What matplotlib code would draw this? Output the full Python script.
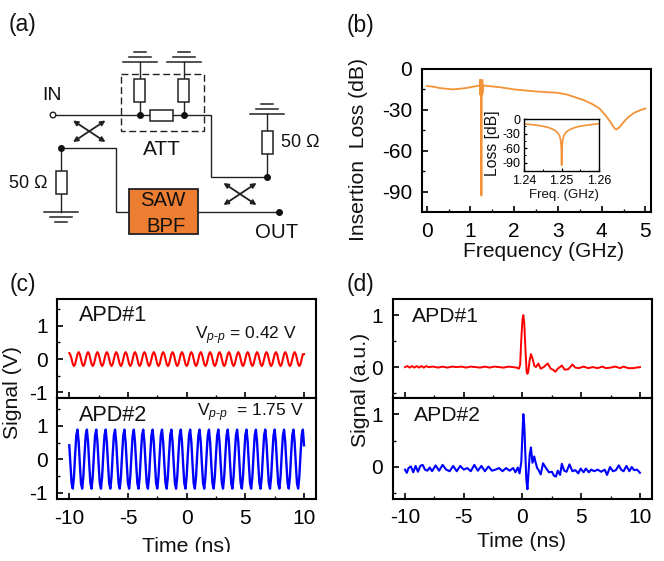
import numpy as np
import matplotlib
matplotlib.use("Agg")
import matplotlib.pyplot as plt
from matplotlib.patches import Rectangle, Circle

plt.rcParams.update({
    "font.family": ["Liberation Sans", "DejaVu Sans"],
    "mathtext.fontset": "custom",
    "mathtext.rm": "Liberation Sans",
    "mathtext.it": "Liberation Sans:italic",
    "axes.unicode_minus": False,
    "axes.linewidth": 1.5,
})

W, H = 664, 561
ORANGE = "#F39237"
TXT = 15.3

# ---------- (b) data ----------
freq = [0, .15, .3, .6, .9, 1.1, 1.18, 1.215, 1.22, 1.225, 1.23, 1.235, 1.24, 1.2495, 1.25, 1.2505,
        1.26, 1.265, 1.27, 1.275, 1.28, 1.4, 1.7, 2.0, 2.5, 3.0, 3.2, 3.4, 3.6, 3.8, 3.95, 4.1, 4.2,
        4.28, 4.33, 4.4, 4.5, 4.6, 4.75, 4.9, 5.0]
loss = [-12.5, -13, -14, -15, -14, -12.8, -12.3, -12, -8, -19, -8, -19, -9, -20, -93, -20,
        -9, -19, -8, -18, -12, -12.5, -13.5, -15, -16.5, -17.5, -18.7, -20.8, -23, -26, -29, -34.5, -39,
        -43, -44.5, -43, -39, -35.5, -32, -30, -29]
ins_freq = [1.24, 1.242, 1.244, 1.246, 1.247, 1.248, 1.2485, 1.249, 1.2494, 1.2497, 1.2499, 1.25,
            1.2501, 1.2503, 1.2506, 1.251, 1.2515, 1.252, 1.253, 1.254, 1.256, 1.258, 1.26]
ins_loss = [-10, -11.5, -13.5, -16.5, -19, -22.5, -25, -29, -34, -42, -58, -95,
            -58, -42, -34, -29, -25, -22.5, -19, -16.5, -13.5, -11.5, -9.5]
freq_ticks = [0, 1, 2, 3, 4, 5]
loss_ticks = [0, -30, -60, -90]
ins_freq_ticks = [1.24, 1.25, 1.26]
ins_loss_ticks = [0, -30, -60, -90]

# ---------- (c) data: sampled every 0.1 ns ----------
time_c = np.linspace(-10, 10, 201)
apd1_c = [
    .18, .12, 0, -.15, -.21, -.15, 0, .15, .21, .15, 0, -.15, -.21, -.15, 0, .15,
    .21, .15, 0, -.15, -.21, -.15, 0, .15, .21, .15, 0, -.15, -.21, -.15, 0, .15,
    .21, .15, 0, -.15, -.21, -.15, 0, .15, .21, .15, 0, -.15, -.21, -.15, 0, .15,
    .21, .15, 0, -.15, -.21, -.15, 0, .15, .21, .15, 0, -.15, -.21, -.15, 0, .15,
    .21, .15, 0, -.15, -.21, -.15, 0, .15, .21, .15, 0, -.15, -.21, -.15, 0, .15,
    .21, .15, 0, -.15, -.21, -.15, 0, .15, .21, .15, 0, -.15, -.21, -.15, 0, .15,
    .21, .15, 0, -.15, -.21, -.15, 0, .15, .21, .15, 0, -.15, -.21, -.15, 0, .15,
    .21, .15, 0, -.15, -.21, -.15, 0, .15, .21, .15, 0, -.15, -.21, -.15, 0, .15,
    .21, .15, 0, -.15, -.21, -.15, 0, .15, .21, .15, 0, -.15, -.21, -.15, 0, .15,
    .21, .15, 0, -.15, -.21, -.15, 0, .15, .21, .15, 0, -.15, -.21, -.15, 0, .15,
    .21, .15, 0, -.15, -.21, -.15, 0, .15, .21, .15, 0, -.15, -.21, -.15, 0, .15,
    .21, .15, 0, -.15, -.21, -.15, 0, .15, .21, .15, 0, -.15, -.21, -.15, 0, .15,
    .21, .15, 0, -.15, -.21, -.15, 0, .15, .15]
apd2_c = [
    .42, -.14, -.72, -.88, -.52, .14, .72, .89, .52, -.14, -.72, -.88, -.52, .14, .72, .89,
    .52, -.14, -.72, -.88, -.52, .14, .72, .89, .52, -.14, -.72, -.88, -.52, .14, .72, .89,
    .52, -.14, -.72, -.88, -.52, .14, .72, .89, .52, -.14, -.72, -.88, -.52, .14, .72, .89,
    .52, -.14, -.72, -.88, -.52, .14, .72, .89, .52, -.14, -.72, -.88, -.52, .14, .72, .89,
    .52, -.14, -.72, -.88, -.52, .14, .72, .89, .52, -.14, -.72, -.88, -.52, .14, .72, .89,
    .52, -.14, -.72, -.88, -.52, .14, .72, .89, .52, -.14, -.72, -.88, -.52, .14, .72, .89,
    .52, -.14, -.72, -.88, -.52, .14, .72, .89, .52, -.14, -.72, -.88, -.52, .14, .72, .89,
    .52, -.14, -.72, -.88, -.52, .14, .72, .89, .52, -.14, -.72, -.88, -.52, .14, .72, .89,
    .52, -.14, -.72, -.88, -.52, .14, .72, .89, .52, -.14, -.72, -.88, -.52, .14, .72, .89,
    .52, -.14, -.72, -.88, -.52, .14, .72, .89, .52, -.14, -.72, -.88, -.52, .14, .72, .89,
    .52, -.14, -.72, -.88, -.52, .14, .72, .89, .52, -.14, -.72, -.88, -.52, .14, .72, .89,
    .52, -.14, -.72, -.88, -.52, .14, .72, .89, .52, -.14, -.72, -.88, -.52, .14, .72, .89,
    .52, -.14, -.72, -.88, -.52, .14, .72, .89, .42]

# ---------- (d) data ----------
time_d1 = [-10, -9.8, -9.6, -9.4, -9.2, -9, -8.8, -8.6, -8.4, -8.2, -8, -7.6, -7.2, -6.8, -6.4, -6, -5.6,
           -5.2, -4.8, -4.4, -4, -3.6, -3.2, -2.8, -2.4, -2, -1.6, -1.2, -.8, -.5, -.3, -.2, -.1, 0, .07,
           .15, .25, .35, .42, .5, .6, .72, .85, 1, 1.15, 1.35, 1.55, 1.8, 2.15, 2.4, 2.6, 2.8, 3, 3.35,
           3.6, 3.9, 4.25, 4.5, 4.8, 5.2, 5.6, 6, 6.4, 6.8, 7.1, 7.5, 7.9, 8.3, 8.6, 9, 9.4, 9.7, 10]
sig_d1 = [0, .02, -.01, .02, -.01, .02, -.01, .02, -.01, .02, 0, .01, -.01, .01, -.01, .01, 0,
          .01, -.01, .01, 0, -.01, .01, -.01, .01, 0, -.01, .01, 0, -.01, -.03, .05, .55, .92, 1.0,
          .85, .35, -.08, -.13, -.08, .12, .25, .17, .03, 0, .07, -.03, 0, .07, -.03, -.05, -.09, -.03, .03,
          -.05, -.04, .05, -.01, -.02, .01, -.02, 0, -.02, .01, -.02, -.01, .01, -.02, .01, -.02, -.02, -.01, 0]
time_d2 = [-10, -9.85, -9.7, -9.5, -9.3, -9.1, -8.9, -8.7, -8.5, -8.3, -8.1, -7.9, -7.7, -7.4, -7.1, -6.8,
           -6.5, -6.2, -5.9, -5.6, -5.3, -5, -4.7, -4.4, -4.1, -3.8, -3.5, -3.2, -2.9, -2.6, -2.3, -2, -1.7,
           -1.4, -1.1, -.8, -.6, -.4, -.25, -.1, 0, .07, .15, .25, .33, .42, .5, .62, .72, .85, 1, 1.1, 1.25,
           1.4, 1.55, 1.75, 2, 2.25, 2.5, 2.7, 2.85, 3, 3.2, 3.35, 3.55, 3.75, 4, 4.25, 4.5, 4.75, 4.95,
           5.2, 5.4, 5.65, 5.85, 6.1, 6.4, 6.7, 7, 7.2, 7.45, 7.7, 7.95, 8.2, 8.4, 8.6, 8.85, 9.1, 9.3,
           9.5, 9.75, 10]
sig_d2 = [-.05, -.11, -.02, .01, -.1, .02, -.09, .02, .04, -.05, -.07, -.01, -.08, .03, -.07, .04,
          -.05, -.08, .02, -.08, .02, -.05, -.02, -.08, .04, -.07, .02, -.08, .01, -.07, -.05, -.02, -.08,
          -.02, -.07, -.02, -.1, -.01, -.12, .1, .65, 1.0, .8, .2, -.25, -.42, -.15, .25, .37, .08, .2, .1, -.02,
          -.07, -.14, .07, -.02, -.1, -.09, -.17, -.18, -.07, -.15, .06, -.07, -.09, .05, -.08, -.06, -.12, -.03,
          -.1, -.03, -.1, -.05, -.08, -.05, -.09, -.05, -.15, .0, -.08, -.06, .03, -.05, -.08, .02, -.08, .0,
          -.06, -.05, -.11]
time_ticks = [-10, -5, 0, 5, 10]

# ---------- (a) schematic geometry, in figure pixels ----------
wires = [
    [(56, 115), (211, 115), (211, 177), (267, 177), (267, 114)],
    [(61, 148), (116, 148), (116, 212), (129, 212)],
    [(61, 148), (61, 212)],
    [(198, 212), (279, 212)],
    [(139.5, 62), (139.5, 115)],
    [(183.5, 62), (183.5, 115)],
]
v_res = [(139.5, 90.5), (183.5, 90.5), (267, 142.5), (61, 182.5)]
ground_up = [(139.5, 61.5), (183.5, 61.5), (267, 113.5)]
ground_down = [(61, 212)]
dots = [(139.5, 115), (183.5, 115), (267, 177), (61, 148), (279, 212)]
crosses = [((73, 120.5), (105.5, 142)), ((223.5, 183), (256.5, 205))]


def px_axes(l, t, r, b, **kw):
    return fig.add_axes([l / W, 1 - b / H, (r - l) / W, (b - t) / H], **kw)


def style(ax, size=15, maj=4.0, mnr=2.4, lw=1.2, pad=4):
    ax.tick_params(which="major", direction="in", length=maj, width=lw, labelsize=size, pad=pad)
    ax.tick_params(which="minor", direction="in", length=mnr, width=lw * .8)


fig = plt.figure(figsize=(W / 100, H / 100), dpi=100)

# (b)
ax = px_axes(421.7, 69, 650.7, 212)
ax.plot(freq, loss, color=ORANGE, lw=1.3, solid_joinstyle="round")
ax.set_xlim(-.115, 5.12)
ax.set_ylim(-105, 0)
ax.set_xticks(freq_ticks)
ax.set_yticks(loss_ticks)
ax.set_xticks([.5, 1.5, 2.5, 3.5, 4.5], minor=True)
ax.set_yticks([-15, -45, -75], minor=True)
style(ax, pad=7)

ins = px_axes(524.3, 119, 599, 171)
ins.plot(ins_freq, ins_loss, color=ORANGE, lw=1.2, solid_joinstyle="round")
ins.set_xlim(1.24, 1.26)
ins.set_ylim(-107, 0)
ins.set_xticks(ins_freq_ticks)
ins.set_xticklabels(["1.24", "1.25", "1.26"])
ins.set_yticks(ins_loss_ticks)
ins.set_xticks([1.245, 1.255], minor=True)
ins.set_yticks([-15, -45, -75], minor=True)
style(ins, size=9.0, maj=2.5, mnr=1.5, lw=.9, pad=3)
for s in ins.spines.values():
    s.set_linewidth(1.0)

# (c)
c1 = px_axes(57.3, 299.3, 316, 398.3)
c1.plot(time_c, apd1_c, color="#FF0000", lw=1.5)
c1.set_ylim(-1.18, 1.8)
c2 = px_axes(57.3, 398.3, 316, 499.3)
c2.plot(time_c, apd2_c, color="#0000FF", lw=1.7)
c2.set_ylim(-1.2, 1.83)
for a in (c1, c2):
    a.set_xlim(-11.02, 11.02)
    a.set_xticks(time_ticks)
    a.set_xticks([-7.5, -2.5, 2.5, 7.5], minor=True)
    a.set_yticks([-1, 0, 1])
    a.set_yticks([-.5, .5, 1.5], minor=True)
    style(a, pad=7)
c1.tick_params(labelbottom=False)

# (d)
d1 = px_axes(392.7, 299, 651.7, 398.3)
d1.plot(time_d1, sig_d1, color="#FF0000", lw=1.4)
d1.set_ylim(-.6, 1.31)
d2 = px_axes(392.7, 398.3, 651.7, 498.7)
d2.plot(time_d2, sig_d2, color="#0000FF", lw=1.5)
d2.set_ylim(-.6, 1.3)
for a in (d1, d2):
    a.set_xlim(-11.05, 11.0)
    a.set_xticks(time_ticks)
    a.set_xticks([-7.5, -2.5, 2.5, 7.5], minor=True)
    a.set_yticks([0, 1])
    a.set_yticks([-.5, .5], minor=True)
    style(a, pad=7)
d1.tick_params(labelbottom=False)

# overlay: schematic and labels in pixel coordinates
ov = fig.add_axes([0, 0, 1, 1], zorder=10)
ov.set_xlim(0, W)
ov.set_ylim(H, 0)
ov.axis("off")
ov.patch.set_alpha(0)


def t(x, y, s, size=TXT, ha="center", rot=0, **kw):
    ov.text(x, y, s, fontsize=size, ha=ha, va="center", rotation=rot, color="#111111", **kw)


for pts in wires:
    xs, ys = zip(*pts)
    ov.plot(xs, ys, color="#222222", lw=1.0, solid_joinstyle="miter")
for (x, y) in v_res:
    ov.add_patch(Rectangle((x - 5.5, y - 11.5), 11, 23, fc="white", ec="#222222", lw=1.1, zorder=3))
ov.add_patch(Rectangle((150, 109.5), 23, 11.5, fc="white", ec="#222222", lw=1.1, zorder=3))
for (x, y) in ground_up:
    ov.plot([x - 17, x + 17], [y, y], color="#222222", lw=1.1)
    ov.plot([x - 11, x + 11], [y - 5, y - 5], color="#222222", lw=1.1)
    ov.plot([x - 6, x + 6], [y - 10, y - 10], color="#222222", lw=1.1)
for (x, y) in ground_down:
    ov.plot([x - 17, x + 17], [y, y], color="#222222", lw=1.1)
    ov.plot([x - 11, x + 11], [y + 5, y + 5], color="#222222", lw=1.1)
    ov.plot([x - 6, x + 6], [y + 10, y + 10], color="#222222", lw=1.1)
for (x, y) in dots:
    ov.plot([x], [y], "o", color="#111111", ms=4, zorder=4)
ov.add_patch(Circle((53, 115), 2.8, fc="white", ec="#222222", lw=1.0, zorder=4))
ov.add_patch(Rectangle((121, 74), 83, 57, fill=False, ec="#222222", lw=1.0, ls=(0, (5, 2.5))))
ov.add_patch(Rectangle((129, 189), 69, 45, fc="#ED7D31", ec="#222222", lw=1.3, zorder=3))
for (p, q) in crosses:
    ov.annotate("", xy=p, xytext=q, arrowprops=dict(arrowstyle="<|-|>", color="#222222", lw=1.3,
                mutation_scale=7, shrinkA=0, shrinkB=0))
    ov.annotate("", xy=(p[0], q[1]), xytext=(q[0], p[1]), arrowprops=dict(arrowstyle="<|-|>", color="#222222",
                lw=1.3, mutation_scale=7, shrinkA=0, shrinkB=0))

t(23, 24, "(a)", 16.5)
t(360, 25, "(b)", 16.5)
t(23, 284, "(c)", 16.5)
t(360, 284, "(d)", 16.5)
t(52, 95, "IN", 14)
t(162, 149, "ATT", 15)
t(300, 142, "50 Ω", 13)
t(28, 183, "50 Ω", 13)
t(163, 200, "SAW", 14.6, zorder=5)
t(166, 226, "BPF", 14.6, zorder=5)
t(277, 232, "OUT", 14.7)
t(544, 251.5, "Frequency (GHz)", 15.1)
t(358, 149, "Insertion  Loss (dB)", 15.2, rot=90)
t(493, 143, "Loss [dB]", 11.3, rot=90)
t(564, 195, "Freq. (GHz)", 9.5)
t(13, 392, "Signal (V)", rot=90)
t(187, 547, "Time (ns)")
t(360, 390, "Signal (a.u.)", rot=90)
t(522, 541.5, "Time (ns)")
t(79, 315, "APD#1", 15.6, ha="left")
t(79, 415.5, "APD#2", 15.6, ha="left")
t(412, 316.5, "APD#1", 15.2, ha="left")
t(414, 415.5, "APD#2", 15.2, ha="left")
t(195, 336, r"V$_{p\text{-}p}$ = 0.42 V", 12.5, ha="left")
t(197, 413, r"V$_{p\text{-}p}$  = 1.75 V", 12.5, ha="left")
ov.add_patch(Rectangle((120, 552), 140, 9, fc="white", ec="none", zorder=6))

fig.savefig("out.png", dpi=100)
